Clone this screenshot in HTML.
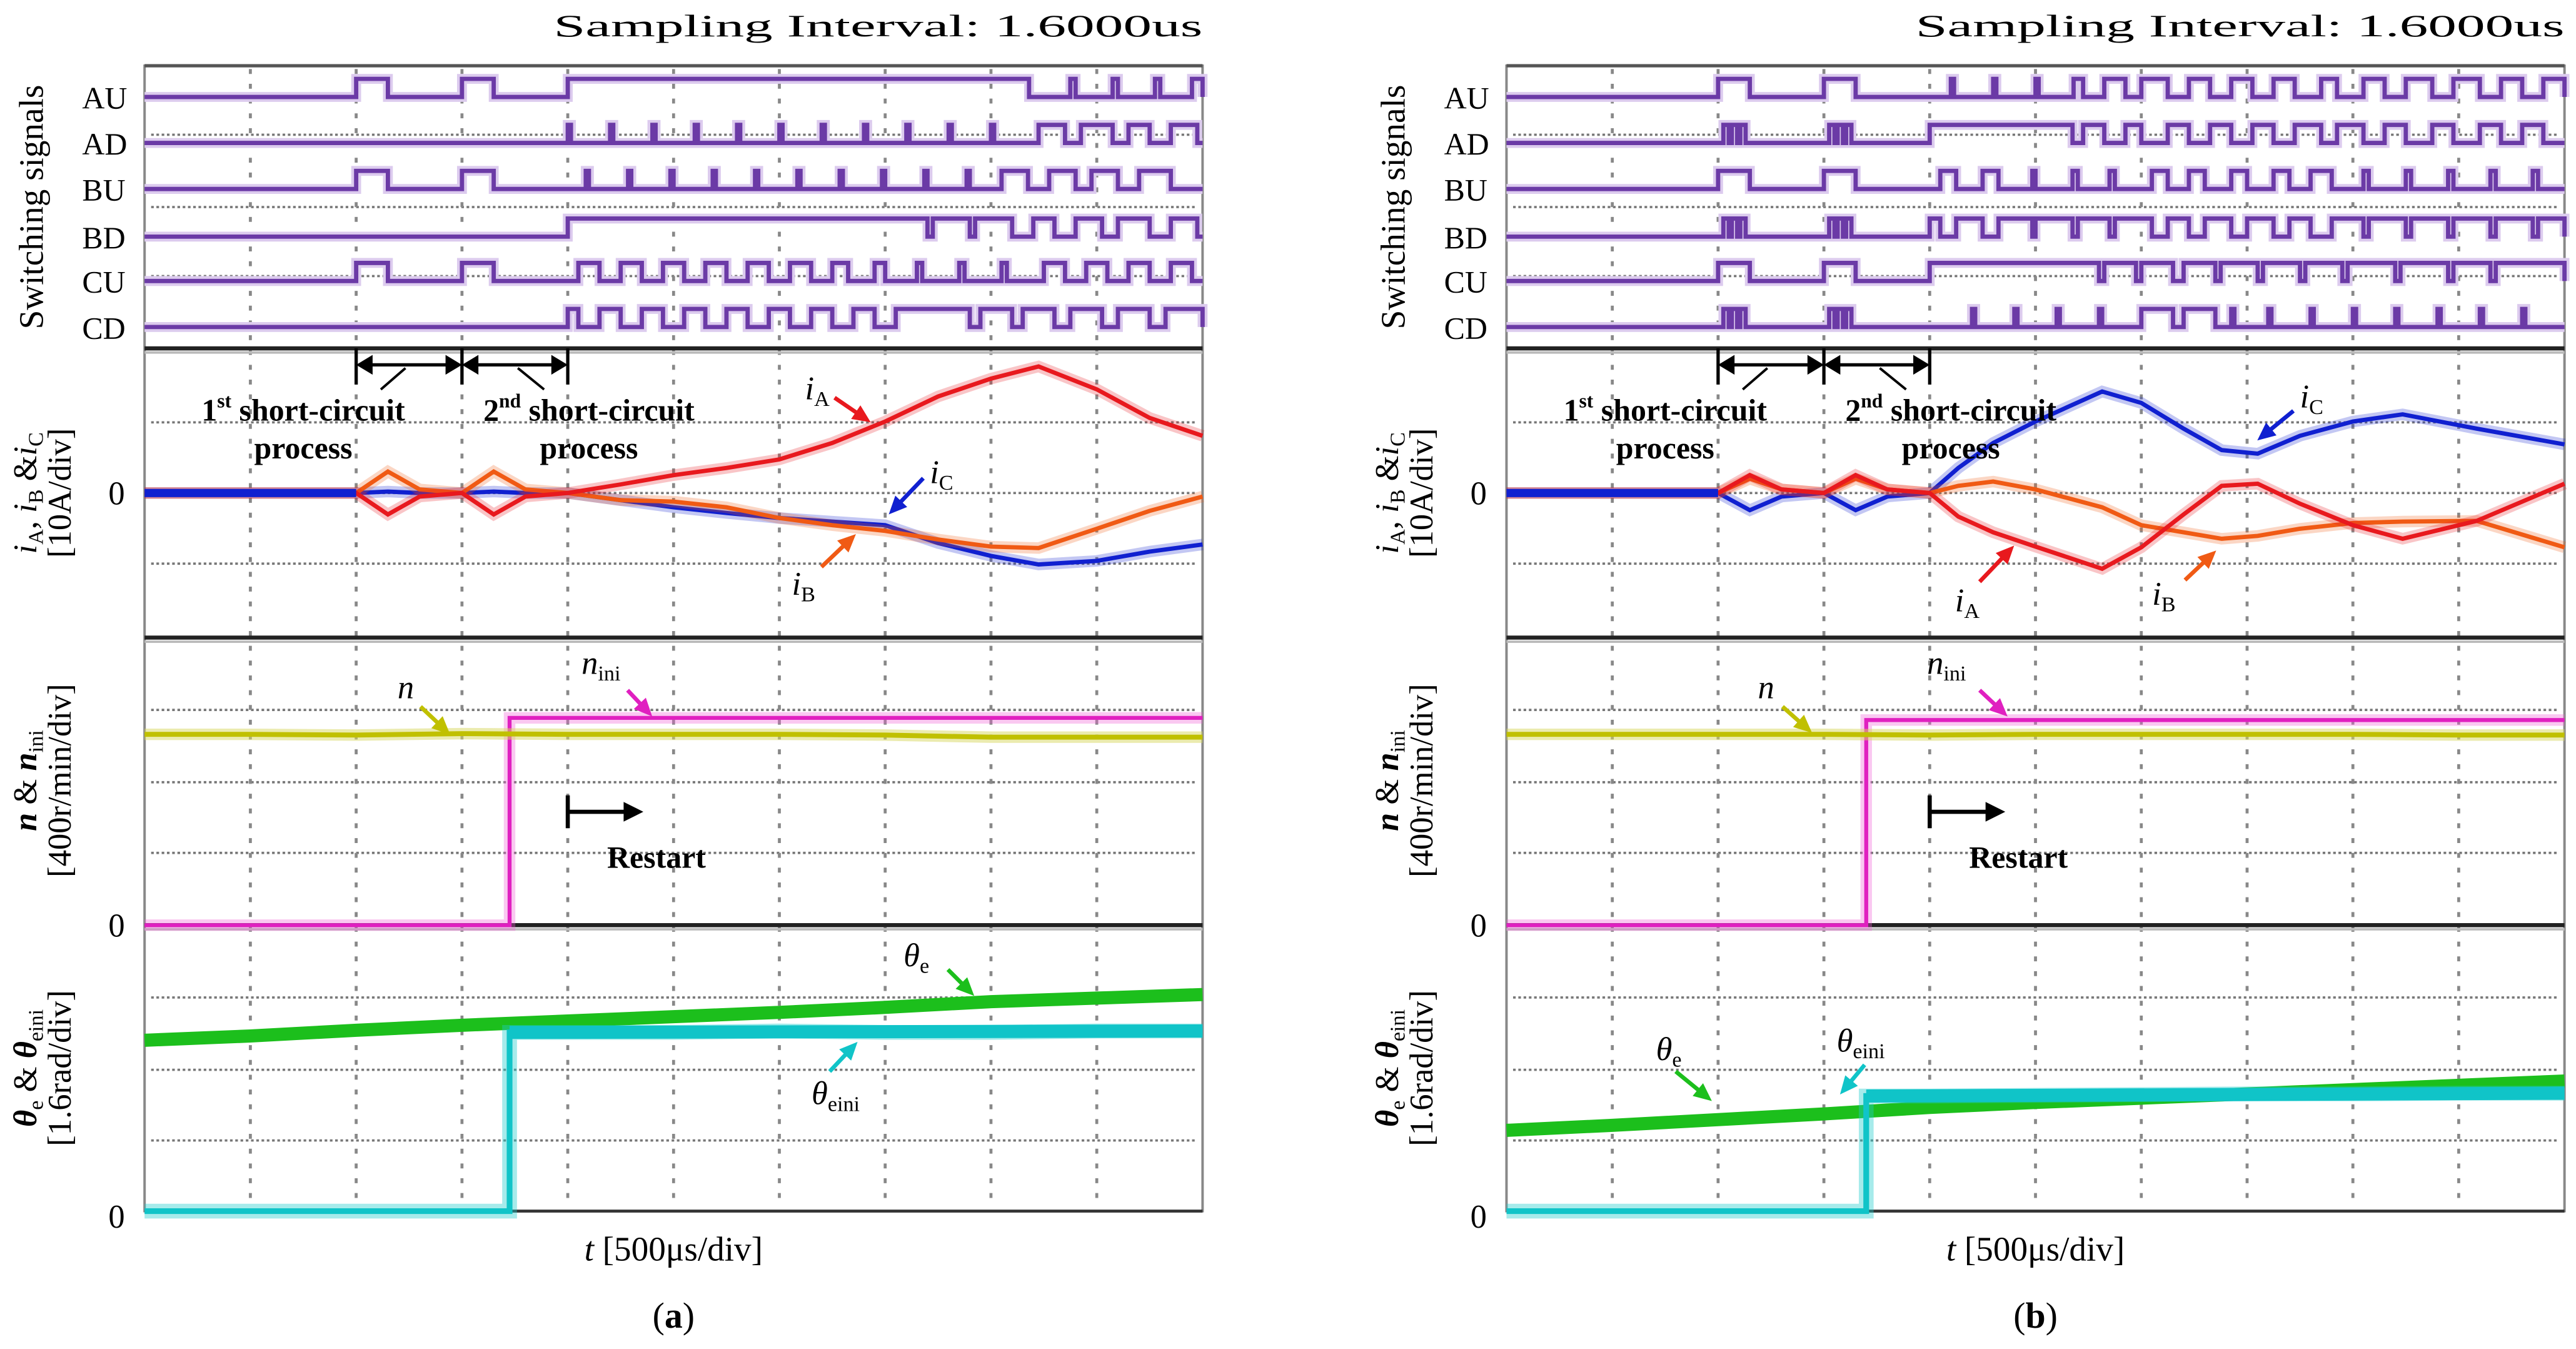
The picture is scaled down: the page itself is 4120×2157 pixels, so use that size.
<!DOCTYPE html>
<html><head><meta charset="utf-8">
<style>
html,body{margin:0;padding:0;background:#fff;}
svg{display:block;}
text{font-family:"Liberation Serif",serif;fill:#000;}
</style></head>
<body>
<svg id="fig" width="4120" height="2157" viewBox="0 0 1568 820.9" preserveAspectRatio="none" xmlns="http://www.w3.org/2000/svg">
<rect x="0" y="0" width="1568" height="821" fill="#fff"/>
<g id="layer"></g>
</svg>
<script>
// ---------- data ----------
const rowNames=['AU','AD','BU','BD','CU','CD'];
const swA_AU=[[2,2.3],[3,3.3],[4,8.36],[8.75,8.8],[9.15,9.2],[9.55,9.6],[9.9,10]];
const swA_AD=[[4.0,4.03],[4.4,4.43],[4.8,4.83],[5.2,5.23],[5.6,5.63],[6.0,6.03],[6.4,6.43],[6.8,6.83],[7.2,7.23],[7.6,7.63],[8.0,8.03],[8.45,8.7],[8.85,9.15],[9.3,9.5],[9.7,9.95]];
const swA_BU=[[2,2.3],[3,3.3],[4.17,4.2],[4.57,4.6],[4.97,5.0],[5.37,5.4],[5.77,5.8],[6.17,6.2],[6.57,6.6],[6.97,7.0],[7.37,7.4],[7.77,7.8],[8.1,8.35],[8.55,8.8],[8.95,9.2],[9.4,9.7]];
const swA_BD=[[4,7.4],[7.45,7.8],[7.85,8.2],[8.4,8.6],[8.8,9.05],[9.2,9.5],[9.7,9.95]];
const swA_CU=[[2,2.3],[3,3.3],[4.1,4.3],[4.5,4.7],[4.9,5.1],[5.3,5.5],[5.7,5.9],[6.1,6.3],[6.5,6.65],[6.9,7.0],[7.3,7.35],[7.7,7.75],[8.1,8.15],[8.5,8.7],[8.9,9.1],[9.3,9.5],[9.7,9.9]];
const swA_CD=[[4,4.1],[4.3,4.5],[4.7,4.9],[5.1,5.3],[5.5,5.7],[5.9,6.1],[6.3,6.5],[6.7,6.9],[7.1,7.8],[7.9,8.2],[8.3,8.6],[8.75,9.05],[9.2,9.5],[9.65,10]];
const swB_AU=[[2,2.3],[3,3.3],[4.2,4.23],[4.6,4.63],[5.0,5.03],[5.36,5.45],[5.65,5.85],[6.0,6.25],[6.45,6.65],[6.85,7.05],[7.25,7.45],[7.7,7.85],[8.1,8.3],[8.5,8.75],[8.95,9.2],[9.4,9.6],[9.8,10]];
const swB_AD=[[2.05,2.1],[2.13,2.18],[2.21,2.26],[3.05,3.1],[3.13,3.18],[3.21,3.26],[4,5.35],[5.45,5.65],[5.85,6.0],[6.25,6.45],[6.65,6.85],[7.05,7.25],[7.45,7.7],[7.85,8.1],[8.3,8.5],[8.75,8.95],[9.2,9.4],[9.6,9.8]];
const swB_BU=[[2,2.3],[3,3.3],[4.1,4.25],[4.5,4.65],[4.97,5.0],[5.35,5.4],[5.7,5.75],[6.1,6.25],[6.45,6.6],[6.85,7.0],[7.25,7.4],[7.6,7.8],[8.1,8.15],[8.5,8.55],[8.9,8.95],[9.3,9.35],[9.7,9.75]];
const swB_BD=[[2.05,2.1],[2.13,2.18],[2.21,2.26],[3.05,3.1],[3.13,3.18],[3.21,3.26],[4,4.1],[4.25,4.5],[4.65,4.97],[5.0,5.35],[5.4,5.7],[5.75,6.1],[6.25,6.45],[6.6,6.85],[7.0,7.25],[7.4,7.6],[7.8,8.1],[8.15,8.5],[8.55,8.9],[8.95,9.3],[9.35,9.7],[9.75,10]];
const swB_CU=[[2,2.3],[3,3.3],[4,5.6],[5.65,5.95],[6.0,6.3],[6.4,6.7],[6.75,7.1],[7.15,7.5],[7.55,7.9],[7.95,8.4],[8.45,8.9],[8.95,9.3],[9.35,10]];
const swB_CD=[[2.05,2.1],[2.13,2.18],[2.21,2.26],[3.05,3.1],[3.13,3.18],[3.21,3.26],[4.4,4.43],[4.8,4.83],[5.2,5.23],[5.6,5.63],[6.0,6.3],[6.4,6.7],[6.85,6.88],[7.2,7.23],[7.6,7.63],[8.0,8.03],[8.4,8.43],[8.8,8.83],[9.2,9.23],[9.6,9.63]];

const curA_t=[0,2,2.3,2.6,3,3.3,3.6,4,4.5,5,5.5,6,6.5,7,7.5,8,8.45,9,9.5,10];
const curA_iA=[0,0,-0.3,-0.05,0,-0.3,-0.05,0,0.12,0.25,0.35,0.47,0.7,1.0,1.35,1.6,1.77,1.45,1.05,0.8];
const curA_iB=[0,0,0.3,0.05,0,0.3,0.05,0,-0.1,-0.12,-0.2,-0.35,-0.45,-0.53,-0.65,-0.75,-0.77,-0.5,-0.25,-0.05];
const curA_iC=[0,0,0.02,0,0,0.02,0,0,-0.1,-0.2,-0.28,-0.35,-0.4,-0.45,-0.7,-0.88,-1.0,-0.95,-0.82,-0.72];
const curB_t=[0,2,2.3,2.6,3,3.3,3.6,4,4.27,4.6,5,5.63,6,6.4,6.76,7.1,7.5,8,8.47,9.17,10];
const curB_iA=[0,0,0.25,0.05,0,0.25,0.05,0,-0.33,-0.55,-0.75,-1.06,-0.76,-0.3,0.1,0.13,-0.15,-0.45,-0.64,-0.39,0.13];
const curB_iB=[0,0,0.2,0.05,0,0.2,0.05,0,0.1,0.16,0.05,-0.2,-0.45,-0.55,-0.64,-0.6,-0.5,-0.42,-0.4,-0.39,-0.76];
const curB_iC=[0,0,-0.24,-0.05,0,-0.24,-0.05,0,0.35,0.7,1.0,1.42,1.26,0.9,0.6,0.55,0.8,1.0,1.1,0.9,0.68];

const tInt=[0,1,2,3,4,5,6,7,8,9,10];
const nA=[2.67,2.67,2.66,2.68,2.67,2.67,2.67,2.66,2.63,2.63,2.63];
const niniA=2.9, stepA=3.45;
const nB=[2.67,2.67,2.67,2.67,2.66,2.67,2.67,2.67,2.67,2.66,2.66];
const niniB=2.87, stepB=3.4;
const thA=[2.39,2.45,2.53,2.6,2.66,2.72,2.78,2.85,2.93,2.98,3.03];
const thiniA=[0,0,0,0,2.5,2.5,2.52,2.5,2.5,2.52,2.52];
const thB=[1.13,1.2,1.28,1.36,1.45,1.52,1.58,1.64,1.7,1.76,1.82];
const thiniB=[0,0,0,0,1.61,1.62,1.63,1.64,1.64,1.65,1.65];

// ---------- geometry ----------
const NS='http://www.w3.org/2000/svg';
const L=document.getElementById('layer');
const DIV=64.4, VD=43.5;
const rowLow=[59,87,115,144,171,199];
function X(p,t){return p+t*DIV;}
function Ycur(v){return 300-v*VD;}
function Yspd(v){return 563-v*VD;}
function Yth(v){return 737-v*VD;}
function el(tag,attrs,parent){const e=document.createElementNS(NS,tag);for(const k in attrs)e.setAttribute(k,attrs[k]);(parent||L).appendChild(e);return e;}
function txt(x,y,s,size,extra){const e=el('text',Object.assign({x:x,y:y,'font-size':size},extra||{}));e.innerHTML=s;return e;}

function drawPanel(p0,label,sw,cur,spd,th,ann){
  const g=el('g',{});
  
  
  const p1=p0+644;
  [82,126,168,257,300,343,432,476,519,607,651,694].forEach(y=>{
    const l=el('line',{x1:p0+4,x2:p1-4,y1:y,y2:y,stroke:'#777','stroke-width':1.4,'stroke-dasharray':'1.6,1.6'},g);
    
    
  });
  for(let k=1;k<10;k++){
    const l=el('line',{x1:X(p0,k),x2:X(p0,k),y1:42,y2:735,stroke:'#888','stroke-width':1.8,'stroke-dasharray':'3,6'},g);
    
    
  }
  el('rect',{x:p0,y:40,width:644,height:697,fill:'none',stroke:'#888','stroke-width':1.5},g);
  el('line',{x1:p0,x2:p1,y1:40,y2:40,stroke:'#555','stroke-width':2},g);
  [212,388,563].forEach(y=>{el('line',{x1:p0,x2:p1,y1:y,y2:y,stroke:'#222','stroke-width':2.5},g);el('line',{x1:p0,x2:p1,y1:y+2.5,y2:y+2.5,stroke:'#bbb','stroke-width':1.5},g);});
  el('line',{x1:p0,x2:p1,y1:737,y2:737,stroke:'#333','stroke-width':1.8},g);
  const st=txt(p1-395,22,'Sampling Interval:  1.6000us',19,{'font-family':'Liberation Mono, monospace',fill:'#333',textLength:395,lengthAdjust:'spacingAndGlyphs'});
  
  
  g.appendChild(st);
  sw.forEach((iv,r)=>{
    const lo=rowLow[r], hi=lo-11;
    let d='M'+p0+' '+lo;
    iv.forEach(([s,e])=>{d+=' L'+X(p0,s)+' '+lo+' L'+X(p0,s)+' '+hi+' L'+X(p0,e)+' '+hi+' L'+X(p0,e)+' '+lo;});
    d+=' L'+p1+' '+lo;
    const w=el('path',{d:d,fill:'none',stroke:'#dccbee','stroke-width':6},g);
    
    
    const pth=el('path',{d:d,fill:'none',stroke:'#6b3aa6','stroke-width':2.6},g);
    
    
    const lt=txt(p0-38,lo+7,rowNames[r],19,{});
    
    
    g.appendChild(lt);
  });
  const swl=txt(0,0,'Switching signals',21,{transform:'translate('+(p0-62)+',126) rotate(-90)','text-anchor':'middle'});
  
  
  g.appendChild(swl);
  const cols={iA:'#e8191e',iB:'#f05a14',iC:'#1020d0'};
  const order=['iC','iB','iA'];
  order.forEach(k=>{
    const vals=cur[k];
    const pts=cur.t.map((t,i)=>X(p0,t)+','+Ycur(vals[i])).join(' ');
    el('polyline',{points:pts,fill:'none',stroke:cols[k],'stroke-opacity':0.25,'stroke-width':7},g);
    const pl=el('polyline',{points:pts,fill:'none',stroke:cols[k],'stroke-width':2.6},g);
    
    
  });
  el('line',{x1:p0,x2:X(p0,2),y1:300,y2:300,stroke:'#1020d0','stroke-width':5},g);
  const ct=txt(0,0,'<tspan font-style="italic">i</tspan><tspan font-size="13" dy="4">A</tspan><tspan dy="-4">, </tspan><tspan font-style="italic">i</tspan><tspan font-size="13" dy="4">B</tspan><tspan dy="-4"> &amp;</tspan><tspan font-style="italic">i</tspan><tspan font-size="13" dy="4">C</tspan>',20,{transform:'translate('+(p0-66)+',300) rotate(-90)','text-anchor':'middle'});
  
  
  g.appendChild(ct);
  const cu=txt(0,0,'[10A/div]',20,{transform:'translate('+(p0-45)+',300) rotate(-90)','text-anchor':'middle'});
  
  
  g.appendChild(cu);
  [[300,'zero-current'],[563,'zero-speed'],[740,'zero-angle']].forEach(([y,n])=>{const z=txt(p0-22,y+7,'0',20,{});g.appendChild(z);});
  const npts=tInt.map((t,i)=>X(p0,t)+','+Yspd(spd.n[i])).join(' ');
  const sx=X(p0,spd.step);
  const nip=p0+','+Yspd(0)+' '+sx+','+Yspd(0)+' '+sx+','+Yspd(spd.nini)+' '+p1+','+Yspd(spd.nini);
  el('polyline',{points:nip,fill:'none',stroke:'#f060d8','stroke-opacity':0.35,'stroke-width':7},g);
  const nl=el('polyline',{points:nip,fill:'none',stroke:'#e020c0','stroke-width':2.4},g);
  
  
  el('polyline',{points:npts,fill:'none',stroke:'#d8d860','stroke-opacity':0.5,'stroke-width':7},g);
  const nn=el('polyline',{points:npts,fill:'none',stroke:'#c0c000','stroke-width':3},g);
  
  
  const sp=txt(0,0,'<tspan font-style="italic" font-weight="bold">n</tspan> &amp; <tspan font-style="italic" font-weight="bold">n</tspan><tspan font-size="13" dy="4">ini</tspan>',20,{transform:'translate('+(p0-66)+',475) rotate(-90)','text-anchor':'middle'});
  
  
  g.appendChild(sp);
  const su=txt(0,0,'[400r/min/div]',20,{transform:'translate('+(p0-45)+',475) rotate(-90)','text-anchor':'middle'});
  
  
  g.appendChild(su);
  const tpts=tInt.map((t,i)=>X(p0,t)+','+Yth(th.e[i])).join(' ');
  let tiStr=p0+','+Yth(0)+' '+X(p0,spd.step)+','+Yth(0)+' '+X(p0,spd.step)+','+Yth(th.ini[4]);
  tInt.forEach((t,i)=>{if(t>spd.step)tiStr+=' '+X(p0,t)+','+Yth(th.ini[i]);});
  const te=el('polyline',{points:tpts,fill:'none',stroke:'#1cbf1c','stroke-width':8},g);
  
  
  el('polyline',{points:tiStr,fill:'none',stroke:'#20cccc','stroke-opacity':0.4,'stroke-width':9},g);
  const ti=el('polyline',{points:tiStr,fill:'none',stroke:'#10c4c8','stroke-width':3.5},g);
  
  
  el('polyline',{points:X(p0,spd.step)+','+Yth(th.ini[4])+' '+p1+','+Yth(th.ini[10]),fill:'none',stroke:'#10c4c8','stroke-width':8},g);
  const tt=txt(0,0,'<tspan font-style="italic" font-weight="bold">θ</tspan><tspan font-size="13" dy="4">e</tspan><tspan dy="-4"> &amp; </tspan><tspan font-style="italic" font-weight="bold">θ</tspan><tspan font-size="13" dy="4">eini</tspan>',20,{transform:'translate('+(p0-66)+',650) rotate(-90)','text-anchor':'middle'});
  
  
  g.appendChild(tt);
  const tu=txt(0,0,'[1.6rad/div]',20,{transform:'translate('+(p0-45)+',650) rotate(-90)','text-anchor':'middle'});
  
  
  g.appendChild(tu);
  const xl=txt(p0+322,767,'<tspan font-style="italic">t</tspan> [500μs/div]',21,{'text-anchor':'middle'});
  
  
  g.appendChild(xl);
  const cap=txt(p0+322,808,'(<tspan font-weight="bold">'+label+'</tspan>)',22,{'text-anchor':'middle'});
  
  
  g.appendChild(cap);
  const x2=X(p0,2),x3=X(p0,3),x4=X(p0,4);
  [x2,x3,x4].forEach(x=>el('line',{x1:x,x2:x,y1:212,y2:234,stroke:'#000','stroke-width':2},g));
  [[x2,x3],[x3,x4]].forEach(([a,b])=>{
    el('line',{x1:a+3,x2:b-3,y1:222,y2:222,stroke:'#000','stroke-width':2},g);
    el('path',{d:'M'+a+' 222 l10 -6 l0 12 z M'+b+' 222 l-10 -6 l0 12 z',fill:'#000'},g);
  });
  el('line',{x1:x2+30,y1:224,x2:x2+15,y2:237,stroke:'#000','stroke-width':1.5},g);
  el('line',{x1:x3+34,y1:224,x2:x3+50,y2:237,stroke:'#000','stroke-width':1.5},g);
  const s1=txt(X(p0,1.5),256,'1<tspan font-size="12" dy="-8">st</tspan><tspan dy="8"> short-circuit</tspan>',19,{'text-anchor':'middle','font-weight':'bold'});
  
  
  g.appendChild(s1);
  const s1b=txt(X(p0,1.5),279,'process',19,{'text-anchor':'middle','font-weight':'bold'});
  g.appendChild(s1b);
  const s2=txt(X(p0,4.2),256,'2<tspan font-size="12" dy="-8">nd</tspan><tspan dy="8"> short-circuit</tspan>',19,{'text-anchor':'middle','font-weight':'bold'});
  
  
  g.appendChild(s2);
  const s2b=txt(X(p0,4.2),279,'process',19,{'text-anchor':'middle','font-weight':'bold'});
  g.appendChild(s2b);
  const rx=X(p0,4);
  el('line',{x1:rx,x2:rx,y1:484,y2:504,stroke:'#000','stroke-width':2.5},g);
  el('line',{x1:rx,x2:rx+38,y1:494,y2:494,stroke:'#000','stroke-width':2.5},g);
  el('path',{d:'M'+(rx+46)+' 494 l-12 -6 l0 12 z',fill:'#000'},g);
  const rs=txt(rx+54,528,'Restart',19,{'text-anchor':'middle','font-weight':'bold'});
  
  
  g.appendChild(rs);
  ann.forEach(a=>{
    const lb=txt(a.lx,a.ly,a.html,20,{});
    
    
    g.appendChild(lb);
    const ang=Math.atan2(a.y2-a.y1,a.x2-a.x1);
    el('line',{x1:a.x1,y1:a.y1,x2:a.x2-7*Math.cos(ang),y2:a.y2-7*Math.sin(ang),stroke:a.c,'stroke-width':2.5},g);
    const hx=a.x2,hy=a.y2,c=Math.cos(ang),s=Math.sin(ang);
    el('path',{d:'M'+hx+' '+hy+' L'+(hx-11*c+5*s)+' '+(hy-11*s-5*c)+' L'+(hx-11*c-5*s)+' '+(hy-11*s+5*c)+' z',fill:a.c},g);
  });
}
const sub=s=>'<tspan font-size="13" dy="4">'+s+'</tspan>';
drawPanel(88,'a',[swA_AU,swA_AD,swA_BU,swA_BD,swA_CU,swA_CD],
 {t:curA_t,iA:curA_iA,iB:curA_iB,iC:curA_iC},{n:nA,nini:niniA,step:stepA},{e:thA,ini:thiniA},
 [{name:'label-ia',html:'<tspan font-style="italic">i</tspan>'+sub('A'),lx:490,ly:243,x1:508,y1:242,x2:530,y2:257,c:'#e8191e'},
  {name:'label-ic',html:'<tspan font-style="italic">i</tspan>'+sub('C'),lx:566,ly:294,x1:562,y1:291,x2:541,y2:313,c:'#1020d0'},
  {name:'label-ib',html:'<tspan font-style="italic">i</tspan>'+sub('B'),lx:482,ly:362,x1:500,y1:345,x2:521,y2:325,c:'#f05a14'},
  {name:'label-n',html:'<tspan font-style="italic">n</tspan>',lx:242,ly:425,x1:256,y1:430,x2:274,y2:447,c:'#c0c000'},
  {name:'label-nini',html:'<tspan font-style="italic">n</tspan>'+sub('ini'),lx:354,ly:410,x1:382,y1:420,x2:397,y2:436,c:'#e020c0'},
  {name:'label-theta-e',html:'<tspan font-style="italic">θ</tspan>'+sub('e'),lx:550,ly:588,x1:577,y1:590,x2:593,y2:606,c:'#1cbf1c'},
  {name:'label-theta-eini',html:'<tspan font-style="italic">θ</tspan>'+sub('eini'),lx:494,ly:672,x1:505,y1:652,x2:522,y2:634,c:'#10c4c8'}]);
drawPanel(917,'b',[swB_AU,swB_AD,swB_BU,swB_BD,swB_CU,swB_CD],
 {t:curB_t,iA:curB_iA,iB:curB_iB,iC:curB_iC},{n:nB,nini:niniB,step:stepB},{e:thB,ini:thiniB},
 [{name:'label-ic',html:'<tspan font-style="italic">i</tspan>'+sub('C'),lx:1400,ly:248,x1:1396,y1:250,x2:1374,y2:268,c:'#1020d0'},
  {name:'label-ia',html:'<tspan font-style="italic">i</tspan>'+sub('A'),lx:1190,ly:372,x1:1205,y1:354,x2:1226,y2:332,c:'#e8191e'},
  {name:'label-ib',html:'<tspan font-style="italic">i</tspan>'+sub('B'),lx:1310,ly:368,x1:1330,y1:353,x2:1349,y2:335,c:'#f05a14'},
  {name:'label-n',html:'<tspan font-style="italic">n</tspan>',lx:1070,ly:425,x1:1085,y1:430,x2:1103,y2:446,c:'#c0c000'},
  {name:'label-nini',html:'<tspan font-style="italic">n</tspan>'+sub('ini'),lx:1173,ly:410,x1:1205,y1:420,x2:1222,y2:436,c:'#e020c0'},
  {name:'label-theta-e',html:'<tspan font-style="italic">θ</tspan>'+sub('e'),lx:1008,ly:645,x1:1020,y1:652,x2:1042,y2:670,c:'#1cbf1c'},
  {name:'label-theta-eini',html:'<tspan font-style="italic">θ</tspan>'+sub('eini'),lx:1118,ly:640,x1:1135,y1:648,x2:1120,y2:666,c:'#10c4c8'}]);
</script>
</body></html>
